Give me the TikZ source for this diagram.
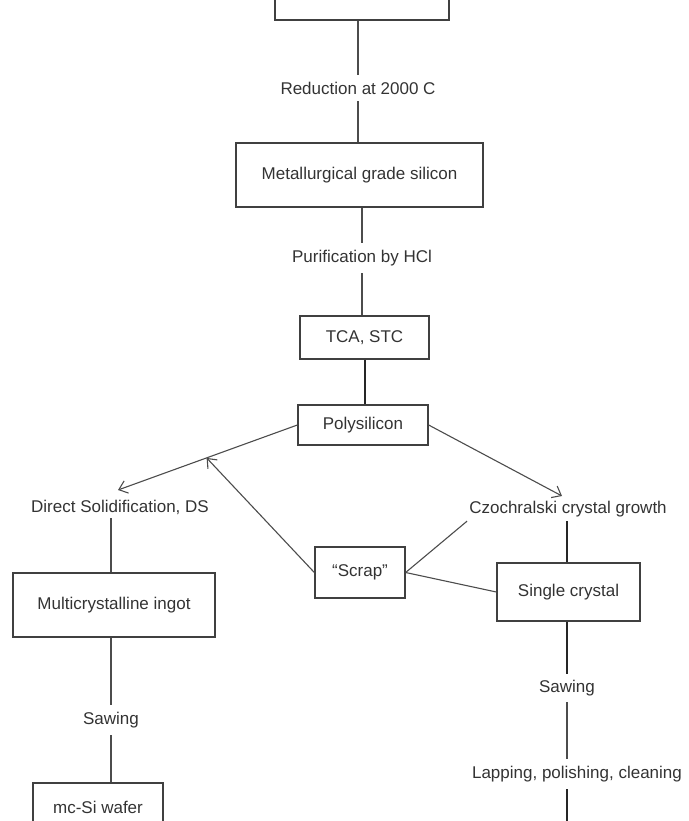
\documentclass[tikz,border=0pt]{standalone}
\usepackage{fontspec}
\setmainfont{Liberation Sans}
\usetikzlibrary{arrows.meta,calc}

\begin{document}
\begin{tikzpicture}[x=1pt,y=-1pt,
  every node/.style={font=\fontsize{17}{20}\selectfont, text=black!80},
  box/.style={draw=black!75, line width=1.3pt, inner sep=0pt},
  lab/.style={inner xsep=2pt, inner ysep=7pt},
  tag/.style={inner xsep=2pt, inner ysep=4pt},
  link/.style={draw=black!70, line width=1.1pt},
  heavy/.style={draw=black!85, line width=2pt},
  arr/.style={link, -{Straight Barb[length=8pt,width=13pt]}},
]
\useasboundingbox (0,0) rectangle (688,821);

% process boxes
\node[box, minimum width=174pt, minimum height=60pt] (src) at (362,-10) {};
\node[box, minimum width=247pt, minimum height=64pt] (mg) at (359.5,175) {Metallurgical grade silicon};
\node[box, minimum width=129pt, minimum height=43pt] (tca) at (364.5,337.5) {TCA, STC};
\node[box, minimum width=130pt, minimum height=40pt] (poly) at (363,425) {Polysilicon};
\node[box, minimum width=90pt, minimum height=51pt] (scrap) at (360,572.5) {“Scrap”};
\node[box, minimum width=143pt, minimum height=58pt] (single) at (568.5,592) {Single crystal};
\node[box, minimum width=202pt, minimum height=64pt] (multi) at (114,605) {Multicrystalline ingot};
\node[box, minimum width=130pt, minimum height=48pt] (wafer) at (98,807) {mc-Si wafer};

% step labels
\node[lab] (red) at (358,88) {Reduction at 2000 C};
\node[lab] (pur) at (362,258) {Purification by HCl};
\node[tag] (ds) at (120,507) {Direct Solidification, DS};
\node[tag] (cz) at (568,509) {Czochralski crystal growth};
\node[lab] (sawL) at (111,720) {Sawing};
\node[lab, inner ysep=6pt] (sawR) at (567,688) {Sawing};
\node[lab] (lap) at (577,774) {Lapping, polishing, cleaning};

% free ends
\coordinate (dsin) at (118,490);
\coordinate (czin) at (562,496);
\coordinate (merge) at ($(poly.west)!0.506!(dsin)$);
\coordinate (endR) at (567,830);

% main chain
\draw[link] (src.south -| red) -- (red.north);
\draw[link] (red.south) -- (red.south |- mg.north);
\draw[link] (mg.south -| pur) -- (pur.north);
\draw[link] (pur.south) -- (pur.south |- tca.north);
\draw[heavy] (tca.south) -- (tca.south |- poly.north);

% branches
\draw[arr] (poly.west) -- (dsin);
\draw[arr] (poly.east) -- (czin);
\draw[arr] (scrap.west) -- (merge);
\draw[link] (cz.south west) -- (scrap.east);
\draw[link] (scrap.east) -- (single.west);

% multicrystalline route
\draw[link] (ds.south -| sawL) -- (multi.north -| sawL);
\draw[link] (multi.south -| sawL) -- (sawL.north);
\draw[link] (sawL.south) -- (sawL.south |- wafer.north);

% single crystal route
\draw[heavy] (sawR |- cz.south) -- (sawR |- single.north);
\draw[heavy] (sawR |- single.south) -- (sawR.north);
\draw[link] (sawR.south) -- (sawR |- lap.north);
\draw[heavy] (sawR |- lap.south) -- (endR);
\end{tikzpicture}
\end{document}
